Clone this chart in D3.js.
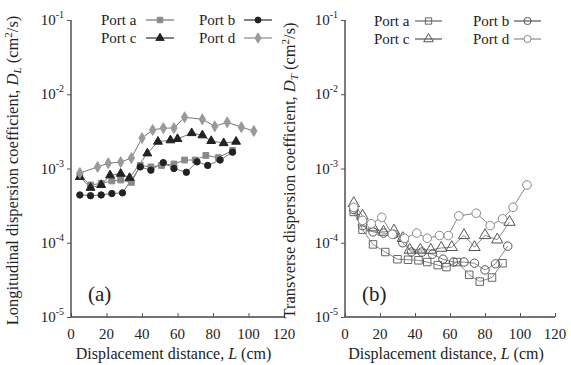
<!DOCTYPE html>
<html>
<head>
<meta charset="utf-8">
<script src="https://cdn.jsdelivr.net/npm/d3@7"></script>
<style>
  html, body { margin: 0; padding: 0; background: #fff; }
  svg { display: block; }
  text { font-family: "Liberation Serif", "DejaVu Serif", serif; fill: #222; }
</style>
</head>
<body>
<svg id="chart" width="571" height="365"></svg>
<script>
// Displacement distance L (cm) and dispersion coefficient (cm^2/s) per port

// Panel (a): longitudinal dispersion D_L
const longA = [[5,8.0e-4],[11,6.0e-4],[17,6.3e-4],[23,6.8e-4],[28,7.0e-4],[34,6.5e-4],[39,1.1e-3],[45,1.05e-3],[51,1.1e-3],[58,1.15e-3],[64,1.3e-3],[70,1.3e-3],[76,1.5e-3],[83,1.4e-3],[91,1.75e-3]];
const longB = [[5,4.4e-4],[11,4.3e-4],[17,4.4e-4],[23,4.6e-4],[29,4.7e-4],[39,1.05e-3],[45,9.5e-4],[52,1.2e-3],[58,1.0e-3],[65,8.9e-4],[71,1.23e-3],[77,1.1e-3],[84,1.3e-3],[91,1.66e-3]];
const longC = [[5,7.7e-4],[11,5.5e-4],[17,6.0e-4],[22,8.1e-4],[28,8.5e-4],[33,7.5e-4],[43,1.6e-3],[49,2.3e-3],[56,2.4e-3],[60,2.5e-3],[68,3.0e-3],[74,2.8e-3],[79,2.35e-3],[86,2.2e-3],[93,2.3e-3]];
const longD = [[5,8.7e-4],[15,1.05e-3],[21,1.18e-3],[28,1.22e-3],[34,1.38e-3],[40,2.57e-3],[46,3.3e-3],[52,3.5e-3],[58,3.5e-3],[64,4.9e-3],[74,4.6e-3],[81,3.7e-3],[88,4.2e-3],[96,3.6e-3],[103,3.2e-3]];

// Panel (b): transverse dispersion D_T
const tranA = [[5,2.6e-4],[10,1.5e-4],[16,9.5e-5],[23,7.5e-5],[30,6.0e-5],[36,5.9e-5],[42,5.8e-5],[47,5.5e-5],[53,5.0e-5],[58,4.7e-5],[64,5.5e-5],[71,3.7e-5],[77,3.0e-5],[84,3.4e-5],[90,5.3e-5]];
const tranB = [[5,2.8e-4],[10,1.7e-4],[16,1.4e-4],[22,1.35e-4],[28,1.3e-4],[33,1.0e-4],[38,7.5e-5],[44,7.5e-5],[50,7.0e-5],[56,6.0e-5],[62,5.5e-5],[68,5.5e-5],[74,5.3e-5],[80,4.3e-5],[86,5.2e-5],[93,9.0e-5]];
const tranC = [[5,3.4e-4],[10,2.3e-4],[16,1.6e-4],[22,1.4e-4],[28,1.45e-4],[33,1.15e-4],[37,8.0e-5],[43,8.0e-5],[49,8.0e-5],[55,8.5e-5],[61,8.7e-5],[68,1.26e-4],[74,8.7e-5],[80,1.26e-4],[87,1.1e-4],[94,1.9e-4]];
const tranD = [[5,3.0e-4],[10,2.0e-4],[15,1.8e-4],[21,2.2e-4],[27,1.3e-4],[34,1.15e-4],[41,1.35e-4],[47,1.15e-4],[54,1.25e-4],[59,1.25e-4],[65,2.3e-4],[75,2.5e-4],[83,1.7e-4],[90,2.1e-4],[96,3.0e-4],[104,6.0e-4]];

const portNames = ["Port a", "Port b", "Port c", "Port d"];
const xTicks = [0, 20, 40, 60, 80, 100, 120];
const yTicks = [1e-5, 1e-4, 1e-3, 1e-2, 1e-1];
const yExponents = ["-5", "-4", "-3", "-2", "-1"];

const svg = d3.select("#chart");

function symbolPath(kind, size) {
  const t = { square: d3.symbolSquare, circle: d3.symbolCircle, triangle: d3.symbolTriangle, diamond: d3.symbolDiamond }[kind];
  return d3.symbol().type(t).size(size)();
}

function drawPanel(cfg) {
  const g = svg.append("g");
  const x = d3.scaleLinear().domain([0, 120]).range([cfg.x0, cfg.x1]);
  const y = d3.scaleLog().domain([1e-5, 1e-1]).range([cfg.yBottom, cfg.yTop]);

  // axes: left and bottom only
  const xAxis = d3.axisBottom(x).tickValues(xTicks).tickSize(-4).tickFormat("");
  const yAxis = d3.axisLeft(y).tickValues(yTicks).tickSize(4).tickFormat("");
  const gx = g.append("g").attr("transform", `translate(0,${cfg.yBottom})`).call(xAxis);
  const gy = g.append("g").attr("transform", `translate(${cfg.x0},0)`).call(yAxis);
  [gx, gy].forEach(a => {
    a.select(".domain").attr("stroke", "#444").attr("stroke-width", 1.4);
    a.selectAll(".tick line").attr("stroke", "#555").attr("stroke-width", 1);
  });
  gx.select(".domain").attr("d", `M${cfg.x0},0H${cfg.x1}`);
  gy.select(".domain").attr("d", `M0,${cfg.yTop}V${cfg.yBottom}`);

  // x tick labels
  g.selectAll(".xl").data(xTicks).join("text")
    .attr("x", d => x(d)).attr("y", cfg.yBottom + 22)
    .attr("text-anchor", "middle").attr("font-size", 15)
    .text(d => d);

  // y tick labels as 10 with superscript exponent
  yTicks.forEach((v, i) => {
    const t = g.append("text")
      .attr("x", cfg.x0 - 7).attr("y", y(v) + 5)
      .attr("text-anchor", "end").attr("font-size", 15);
    t.append("tspan").text("10");
    t.append("tspan").attr("font-size", 10).attr("dy", -7).text(yExponents[i]);
  });

  // axis titles
  const xt = g.append("text")
    .attr("x", (cfg.x0 + cfg.x1) / 2 - 4).attr("y", 359)
    .attr("text-anchor", "middle").attr("font-size", 16);
  xt.append("tspan").text("Displacement distance, ");
  xt.append("tspan").attr("font-style", "italic").text("L");
  xt.append("tspan").text(" (cm)");

  const yt = g.append("text")
    .attr("transform", `translate(${cfg.titleX},${(cfg.yTop + cfg.yBottom) / 2 + 2}) rotate(-90)`)
    .attr("text-anchor", "middle").attr("font-size", 16.5);
  yt.append("tspan").text(cfg.titleText + ", ");
  yt.append("tspan").attr("font-style", "italic").text("D");
  yt.append("tspan").attr("font-style", "italic").attr("font-size", 11).attr("dy", 3).text(cfg.sub);
  yt.append("tspan").attr("dy", -3).text(" (cm");
  yt.append("tspan").attr("font-size", 11).attr("dy", -6).text("2");
  yt.append("tspan").attr("dy", 6).text("/s)");

  // panel tag
  g.append("text").attr("x", cfg.tagX).attr("y", cfg.yBottom - 16)
    .attr("font-size", 21).text(cfg.tag);

  const line = d3.line().x(d => x(d[0])).y(d => y(d[1]));

  cfg.series.forEach(s => {
    g.append("path").datum(s.data)
      .attr("d", line).attr("fill", "none")
      .attr("stroke", cfg.lineColor).attr("stroke-width", 1);
  });
  cfg.series.forEach(s => {
    g.selectAll(null).data(s.data).join("path")
      .attr("transform", d => `translate(${x(d[0])},${y(d[1])})`)
      .attr("d", symbolPath(s.shape, s.size))
      .attr("fill", s.fill).attr("stroke", s.stroke).attr("stroke-width", s.sw);
  });

  // legend: two rows, two columns
  cfg.series.forEach((s, i) => {
    const col = i % 2, row = Math.floor(i / 2);
    const tx = cfg.legX[col], ty = cfg.legY + row * 18;
    g.append("text").attr("x", tx).attr("y", ty + 5)
      .attr("font-size", 15).text(portNames[i]);
    const lx = tx + cfg.legGap;
    g.append("line").attr("x1", lx).attr("x2", lx + cfg.legLen)
      .attr("y1", ty).attr("y2", ty)
      .attr("stroke", s.legStroke).attr("stroke-width", 1.2);
    g.append("path")
      .attr("transform", `translate(${lx + cfg.legLen / 2},${ty})`)
      .attr("d", symbolPath(s.shape, s.legSize))
      .attr("fill", s.fill).attr("stroke", s.stroke).attr("stroke-width", s.sw);
  });
}

drawPanel({
  x0: 71, x1: 284, yTop: 20, yBottom: 317,
  titleX: 18, titleText: "Longitudinal dispersion coefficient", sub: "L",
  tag: "(a)", tagX: 88, lineColor: "#777",
  legX: [101, 199], legY: 20, legGap: 45, legLen: 28,
  series: [
    { data: longA, shape: "square", size: 34, legSize: 30, fill: "#8a8a8a", stroke: "#8a8a8a", sw: 1, legStroke: "#777" },
    { data: longB, shape: "circle", size: 32, legSize: 28, fill: "#222", stroke: "#222", sw: 1, legStroke: "#333" },
    { data: longC, shape: "triangle", size: 34, legSize: 30, fill: "#222", stroke: "#222", sw: 1, legStroke: "#333" },
    { data: longD, shape: "diamond", size: 34, legSize: 30, fill: "#999", stroke: "#999", sw: 1, legStroke: "#888" }
  ]
});

drawPanel({
  x0: 345, x1: 555, yTop: 20, yBottom: 317,
  titleX: 295, titleText: "Transverse dispersion coefficient", sub: "T",
  tag: "(b)", tagX: 362, lineColor: "#888",
  legX: [374, 473], legY: 21, legGap: 41, legLen: 27,
  series: [
    { data: tranA, shape: "square", size: 56, legSize: 40, fill: "none", stroke: "#666", sw: 1, legStroke: "#666" },
    { data: tranB, shape: "circle", size: 56, legSize: 40, fill: "none", stroke: "#555", sw: 1, legStroke: "#555" },
    { data: tranC, shape: "triangle", size: 56, legSize: 40, fill: "none", stroke: "#555", sw: 1, legStroke: "#555" },
    { data: tranD, shape: "circle", size: 58, legSize: 40, fill: "#fff", stroke: "#888", sw: 1, legStroke: "#888" }
  ]
});
</script>
</body>
</html>
